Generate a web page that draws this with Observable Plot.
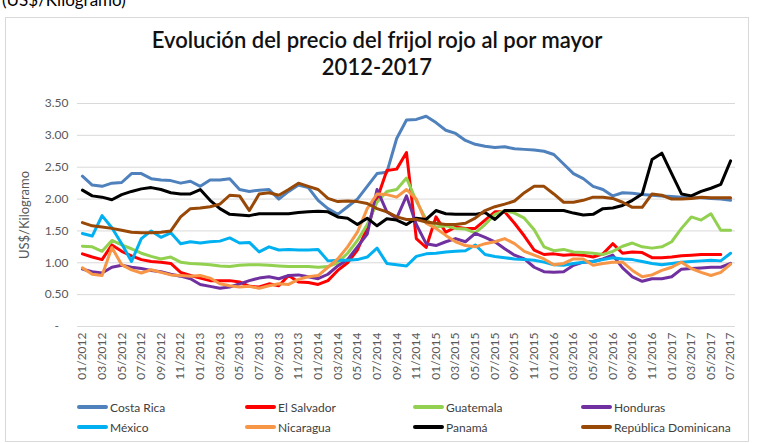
<!DOCTYPE html>
<html><head><meta charset="utf-8">
<script src="https://cdn.jsdelivr.net/npm/d3@7"></script>
<script src="https://cdn.jsdelivr.net/npm/@observablehq/plot@0.6"></script>
<style>
body{margin:0;background:#fff;font-family:Lato,sans-serif;}
#page{position:relative;width:761px;height:443px;overflow:hidden;background:#fff;}
#unit{position:absolute;left:2px;top:-9px;font-size:17px;line-height:17px;color:#000;white-space:nowrap;}
#box{position:absolute;left:5px;top:17px;width:742px;height:423px;border:1px solid #d9d9d9;}
#title{position:absolute;left:5px;width:744px;top:26px;text-align:center;font-size:22px;font-weight:600;color:#111;line-height:27px;}
#chart{position:absolute;left:0;top:90px;}
#chart svg g[aria-label="y-axis label"] text{font-size:13px;}
.item{position:absolute;font-size:12px;color:#404040;display:flex;align-items:center;height:16px;white-space:nowrap;}
.sw{display:inline-block;width:31px;height:4px;border-radius:2px;margin-right:2px;}
</style></head>
<body>
<div id="page">
  <div id="unit">(US$/Kilogramo)</div>
  <div id="box"></div>
  <div id="title">Evolución del precio del frijol rojo al por mayor<br>2012-2017</div>
  <div id="chart"></div>
  <div id="legend"></div>
</div>
<script>
const months = ["01/2012","02/2012","03/2012","04/2012","05/2012","06/2012","07/2012","08/2012","09/2012","10/2012","11/2012","12/2012",
"01/2013","02/2013","03/2013","04/2013","05/2013","06/2013","07/2013","08/2013","09/2013","10/2013","11/2013","12/2013",
"01/2014","02/2014","03/2014","04/2014","05/2014","06/2014","07/2014","08/2014","09/2014","10/2014","11/2014","12/2014",
"01/2015","02/2015","03/2015","04/2015","05/2015","06/2015","07/2015","08/2015","09/2015","10/2015","11/2015","12/2015",
"01/2016","02/2016","03/2016","04/2016","05/2016","06/2016","07/2016","08/2016","09/2016","10/2016","11/2016","12/2016",
"01/2017","02/2017","03/2017","04/2017","05/2017","06/2017","07/2017"];

const countries = ["Costa Rica","El Salvador","Guatemala","Honduras","México","Nicaragua","Panamá","República Dominicana"];
const colors = ["#4F81BD","#FF0000","#92D050","#7030A0","#00B0F0","#F79646","#000000","#984807"];

const costaRica = [2.36,2.22,2.2,2.25,2.26,2.4,2.4,2.32,2.3,2.29,2.25,2.28,
 2.2,2.3,2.3,2.32,2.15,2.12,2.14,2.15,2.0,2.12,2.22,2.18,
 1.98,1.85,1.76,1.88,2.0,2.2,2.4,2.42,2.95,3.24,3.25,3.3,
 3.2,3.08,3.03,2.92,2.86,2.83,2.81,2.82,2.79,2.78,2.77,2.75,
 2.7,2.55,2.4,2.32,2.2,2.15,2.05,2.1,2.09,2.07,2.06,2.05,
 2.04,2.03,2.02,2.02,2.01,2.0,1.98];
const elSalvador = [1.14,1.09,1.05,1.28,1.18,1.11,1.05,1.02,1.01,0.99,0.85,0.8,
 0.76,0.72,0.72,0.72,0.7,0.63,0.62,0.67,0.64,0.8,0.7,0.69,
 0.66,0.72,0.88,1.0,1.2,1.55,2.0,2.45,2.47,2.73,1.38,1.24,
 1.72,1.48,1.56,1.54,1.54,1.67,1.8,1.8,1.62,1.42,1.2,1.13,
 1.14,1.12,1.13,1.12,1.09,1.14,1.3,1.15,1.17,1.16,1.08,1.08,
 1.09,1.11,1.12,1.13,1.13,1.13,null];
const guatemala = [1.26,1.25,1.18,1.35,1.28,1.22,1.15,1.1,1.06,1.09,1.01,0.99,
 0.98,0.97,0.95,0.94,0.96,0.97,0.97,0.96,0.95,0.94,0.94,0.94,
 0.93,0.94,1.0,1.15,1.35,1.6,1.95,2.12,2.15,2.33,1.97,1.68,
 1.56,1.58,1.54,1.53,1.47,1.6,1.76,1.82,1.78,1.7,1.52,1.25,
 1.19,1.21,1.17,1.16,1.15,1.13,1.18,1.26,1.31,1.25,1.23,1.25,
 1.33,1.54,1.72,1.67,1.77,1.51,1.51];
const honduras = [0.9,0.86,0.84,0.93,0.96,0.93,0.91,0.88,0.86,0.82,0.79,0.75,
 0.66,0.63,0.6,0.62,0.67,0.72,0.76,0.78,0.75,0.8,0.81,0.78,
 0.75,0.82,0.95,1.05,1.25,1.45,2.15,1.8,1.7,2.05,1.6,1.3,
 1.27,1.33,1.38,1.33,1.46,1.4,1.33,1.22,1.12,1.06,0.93,0.86,
 0.85,0.86,0.96,1.01,1.02,1.06,1.12,0.92,0.78,0.71,0.75,0.75,
 0.78,0.9,0.91,0.92,0.93,0.93,0.99];
const mexico = [1.46,1.42,1.74,1.55,1.3,1.02,1.38,1.5,1.4,1.47,1.3,1.33,
 1.31,1.33,1.34,1.39,1.31,1.32,1.17,1.25,1.2,1.21,1.2,1.2,
 1.21,1.03,1.04,1.04,1.05,1.09,1.23,0.99,0.97,0.95,1.1,1.14,
 1.15,1.17,1.18,1.19,1.28,1.13,1.1,1.08,1.06,1.05,1.04,1.01,
 0.97,0.96,0.99,1.01,1.02,1.05,1.08,1.06,1.05,1.02,0.99,0.97,
 0.99,1.01,1.02,1.03,1.04,1.03,1.15];
const nicaragua = [0.92,0.82,0.8,1.24,0.97,0.89,0.84,0.89,0.85,0.81,0.8,0.79,
 0.8,0.76,0.67,0.64,0.62,0.63,0.6,0.64,0.67,0.66,0.74,0.78,
 0.8,0.93,1.06,1.25,1.48,1.85,2.08,2.07,2.03,2.15,2.0,1.62,
 1.54,1.43,1.33,1.27,1.25,1.3,1.33,1.38,1.3,1.18,1.12,1.06,
 0.97,0.99,1.06,1.06,0.96,0.99,1.01,1.01,0.88,0.78,0.81,0.88,
 0.93,1.01,0.91,0.85,0.8,0.85,0.98];
const panama = [2.14,2.05,2.03,1.99,2.07,2.12,2.16,2.18,2.15,2.1,2.08,2.08,
 2.15,1.98,1.85,1.76,1.75,1.74,1.77,1.77,1.77,1.77,1.79,1.8,
 1.81,1.8,1.72,1.7,1.6,1.7,1.58,1.69,1.67,1.6,1.7,1.68,
 1.82,1.77,1.76,1.76,1.76,1.79,1.68,1.82,1.82,1.82,1.82,1.82,
 1.82,1.82,1.78,1.75,1.76,1.85,1.86,1.9,1.98,2.08,2.62,2.72,
 2.4,2.08,2.05,2.12,2.17,2.23,2.6];
const repDominicana = [1.63,1.58,1.56,1.54,1.51,1.48,1.47,1.47,1.48,1.5,1.72,1.85,
 1.86,1.88,1.92,2.06,2.05,1.82,2.08,2.1,2.06,2.15,2.25,2.2,
 2.15,2.01,1.96,1.97,1.96,1.93,1.85,1.8,1.72,1.68,1.68,1.64,
 1.62,1.6,1.6,1.62,1.7,1.82,1.88,1.92,1.97,2.1,2.2,2.2,
 2.08,1.95,1.95,1.98,2.03,2.03,2.01,1.95,1.87,1.87,2.08,2.06,
 2.0,2.0,2.01,2.03,2.02,2.02,2.02];

const yTicks = [0,0.5,1,1.5,2,2.5,3,3.5];
const xTicks = months.filter((d,i) => i % 2 === 0);

const series = [costaRica, elSalvador, guatemala, honduras, mexico, nicaragua, panama, repDominicana];
const rows = [];
series.forEach((vals, s) => vals.forEach((v, i) => {
  if (v != null) rows.push({country: countries[s], month: months[i], value: v});
}));

const chart = Plot.plot({
  width: 761, height: 300,
  marginLeft: 77, marginRight: 26, marginTop: 13, marginBottom: 64,
  style: {fontFamily: "Lato, sans-serif", fontSize: "12px", color: "#595959", background: "transparent"},
  x: {type: "point", domain: months, padding: 0.5},
  y: {domain: [0, 3.5]},
  color: {domain: countries, range: colors},
  marks: [
    Plot.gridY(yTicks.filter(d => d > 0), {stroke: "#d9d9d9", strokeOpacity: 1}),
    Plot.ruleY([0], {stroke: "#d9d9d9"}),
    Plot.axisY(yTicks, {tickSize: 0, tickPadding: 9,
      tickFormat: d => d === 0 ? "-\u2007\u2008" : d.toFixed(2),
      label: "US$/Kilogramo", labelAnchor: "center", labelArrow: "none", labelOffset: 58}),
    Plot.axisX(xTicks, {tickSize: 0, tickPadding: 6, tickRotate: -90, label: null}),
    Plot.line(rows, {x: "month", y: "value", z: "country", stroke: "country", strokeWidth: 3, strokeLinejoin: "round"})
  ]
});
document.getElementById("chart").appendChild(chart);

const legend = document.getElementById("legend");
const colX = [77, 245, 413, 581];
const rowY = [399, 419];
countries.forEach((c, i) => {
  const it = document.createElement("div");
  it.className = "item";
  it.style.left = colX[i % 4] + "px";
  it.style.top = rowY[Math.floor(i / 4)] + "px";
  const sw = document.createElement("span");
  sw.className = "sw";
  sw.style.background = colors[i];
  it.appendChild(sw);
  it.appendChild(document.createTextNode(c));
  legend.appendChild(it);
});
</script>
</body></html>
